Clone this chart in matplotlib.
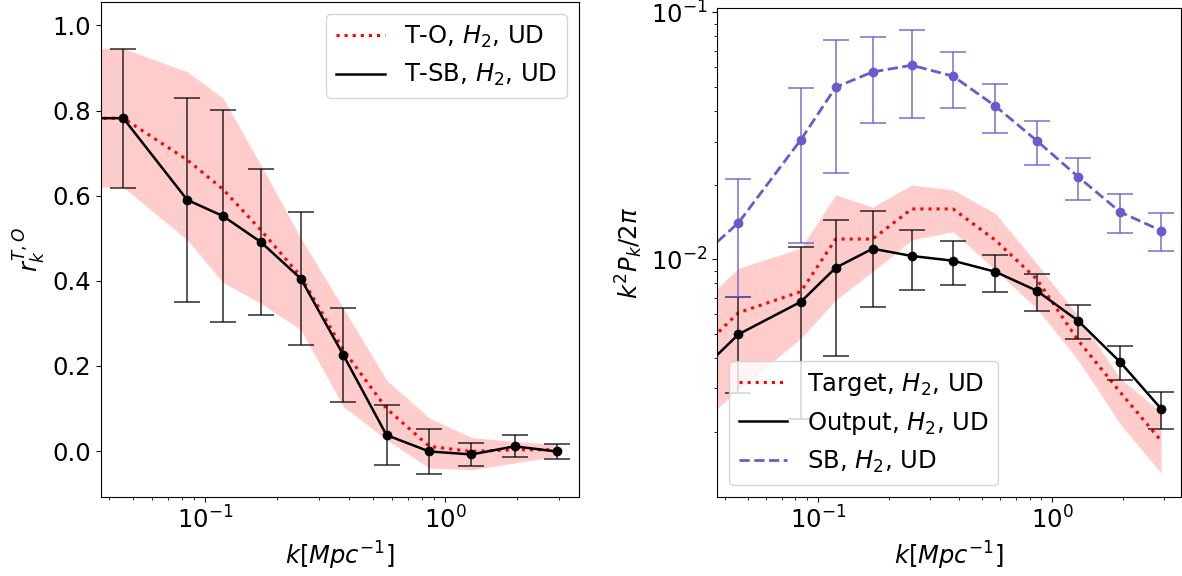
import numpy as np
import matplotlib
matplotlib.use("Agg")
import matplotlib.pyplot as plt

# ---------------- data ----------------
k = [0.030, 0.0457, 0.0844, 0.119, 0.171, 0.251, 0.377, 0.571, 0.860, 1.29, 1.95, 2.92]

# left panel: cross-correlation coefficient
r_out = [0.782, 0.782, 0.590, 0.552, 0.491, 0.405, 0.226, 0.0375, -0.001, -0.008, 0.011, -0.001]
r_err = [0.163, 0.163, 0.240, 0.250, 0.172, 0.156, 0.110, 0.071, 0.052, 0.028, 0.026, 0.018]
r_target = [0.782, 0.782, 0.684, 0.615, 0.519, 0.410, 0.238, 0.100, 0.011, -0.001, 0.003, 0.003]
r_band_hi = [0.946, 0.946, 0.891, 0.829, 0.672, 0.500, 0.336, 0.167, 0.0775, 0.032, 0.0225, 0.015]
r_band_lo = [0.620, 0.620, 0.496, 0.396, 0.347, 0.285, 0.105, 0.0265, -0.040, -0.044, -0.028, -0.0127]

# right panel: power spectra
p_target = [0.00413, 0.00608, 0.0074, 0.01208, 0.01208, 0.0160, 0.0160, 0.01197, 0.0083, 0.0047, 0.0029, 0.00184]
p_band_hi = [0.0063, 0.0092, 0.0111, 0.01825, 0.01626, 0.0200, 0.0191, 0.01536, 0.0096, 0.0059, 0.0033, 0.0024]
p_band_lo = [0.0021, 0.00295, 0.00479, 0.00684, 0.00891, 0.01197, 0.01294, 0.00906, 0.00632, 0.00391, 0.00216, 0.00136]
p_out = [0.00337, 0.00497, 0.00673, 0.00925, 0.01104, 0.01032, 0.00987, 0.00891, 0.00746, 0.00564, 0.00384, 0.00248]
p_out_err = [0.0021, 0.0021, 0.00447, 0.0052, 0.00465, 0.0028, 0.00203, 0.00152, 0.00126, 0.00087, 0.0006, 0.00042]
p_sb = [0.00982, 0.01406, 0.0305, 0.0498, 0.0574, 0.0611, 0.0552, 0.0418, 0.0302, 0.0216, 0.01556, 0.01306]
p_sb_err = [0.0070, 0.0070, 0.0189, 0.0274, 0.0219, 0.0239, 0.0141, 0.0093, 0.0061, 0.0042, 0.0028, 0.0023]

labels_left = ["T-O, $H_2$, UD", "T-SB, $H_2$, UD"]
labels_right = ["Target, $H_2$, UD", "Output, $H_2$, UD", "SB, $H_2$, UD"]

plt.rcParams["font.family"] = ["DejaVu Sans"]
plt.rcParams["font.size"] = 17.5

W, H = 1182, 576
fig = plt.figure(figsize=(W / 100, H / 100), dpi=100)
ax1 = fig.add_axes([101 / W, (H - 497) / H, 478 / W, 495 / H])
ax2 = fig.add_axes([717 / W, (H - 497) / H, 464 / W, 489 / H])

sb_color = "#6a5acd"
cap = 9.6

# ---------------- left ----------------
ax1.fill_between(k, r_band_lo, r_band_hi, color="red", alpha=0.2, lw=0)
ax1.plot(k, r_target, ":", color="red", lw=2.2, label=labels_left[0])
ax1.plot(k, r_out, "-", color="black", lw=1.8, label=labels_left[1])
ax1.errorbar(k[1:], r_out[1:], yerr=r_err[1:], fmt="o", color="black", ms=6,
             ecolor=(0, 0, 0, 0.7), elinewidth=1.3, capsize=cap, capthick=1.3)
ax1.set_xscale("log")
ax1.set_xlim(0.0369, 3.62)
ax1.set_ylim(-0.108, 1.055)
ax1.set_yticks([0.0, 0.2, 0.4, 0.6, 0.8, 1.0])
ax1.set_xlabel("$k[Mpc^{-1}]$", fontsize=17.5)
ax1.set_ylabel("$r_k^{T,O}$", fontsize=17.5)
ax1.legend(loc="upper right", fontsize=17.5, handlelength=2.0)

# ---------------- right ----------------
ax2.fill_between(k, p_band_lo, p_band_hi, color="red", alpha=0.2, lw=0)
ax2.plot(k, p_target, ":", color="red", lw=2.2, label=labels_right[0])
ax2.plot(k, p_out, "-", color="black", lw=1.8, label=labels_right[1])
ax2.errorbar(k[1:], p_out[1:], yerr=p_out_err[1:], fmt="o", color="black", ms=6,
             ecolor=(0, 0, 0, 0.7), elinewidth=1.3, capsize=cap, capthick=1.3)
ax2.plot(k, p_sb, "--", color=sb_color, lw=2.0, label=labels_right[2])
ax2.errorbar(k[1:], p_sb[1:], yerr=p_sb_err[1:], fmt="o", color=sb_color, ms=6,
             ecolor=matplotlib.colors.to_rgba(sb_color, 0.75), elinewidth=1.3,
             capsize=cap, capthick=1.3)
ax2.set_xscale("log")
ax2.set_yscale("log")
ax2.set_xlim(0.0370, 3.55)
ax2.set_ylim(1.09e-3, 0.1042)
ax2.set_xlabel("$k[Mpc^{-1}]$", fontsize=17.5)
ax2.set_ylabel("$k^2P_k/2\\pi$", fontsize=17.5)
ax2.legend(loc="lower left", fontsize=17.5, handlelength=2.0)

fig.savefig("out.png", dpi=100)
